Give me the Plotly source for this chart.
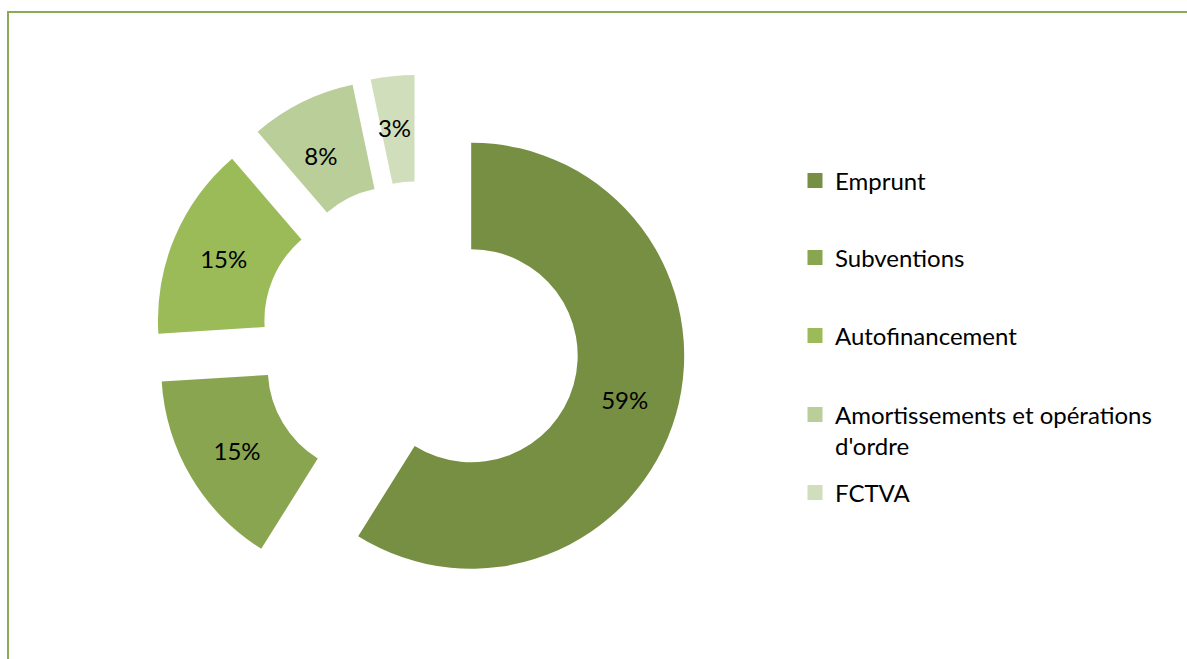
import plotly.graph_objects as go

categories = ["Emprunt", "Subventions", "Autofinancement",
              "Amortissements et opérations d'ordre", "FCTVA"]
legend_labels = ["Emprunt", "Subventions", "Autofinancement",
                 "Amortissements et opérations<br>d'ordre", "FCTVA"]
values = [58.9, 15.1, 14.7, 8.0, 3.3]
colors = ["#768F43", "#8AA550", "#9BBB59", "#B9CE98", "#D0DEBC"]

W, H = 1187, 659
FONT = "Lato"

label_tpl = ["%{percent:.0%}", "%{percent:.0%}", "%{percent:.0%}",
             "&nbsp;<br>%{percent:.0%}", "&nbsp;<br>&nbsp;<br>%{percent:.0%}"]

fig = go.Figure()
fig.add_trace(go.Pie(
    labels=categories,
    values=values,
    hole=0.5,
    sort=False,
    direction="clockwise",
    rotation=0,
    pull=[0.25] * len(values),
    marker=dict(colors=colors, line=dict(width=0)),
    textinfo="percent",
    texttemplate=label_tpl,
    textposition="inside",
    insidetextorientation="horizontal",
    textfont=dict(family=FONT, size=24, color="black"),
    showlegend=False,
    domain=dict(x=[153.75 / W, 686.25 / W], y=[(H - 607.25) / H, (H - 74.75) / H]),
))

# legend entries (one legend per entry to reproduce the spacing)
legend_y_px = [181, 258, 336, 430.5, 493]
for i, (lab, col) in enumerate(zip(legend_labels, colors)):
    lname = "legend" if i == 0 else f"legend{i + 1}"
    fig.add_trace(go.Scatter(
        x=[None], y=[None], mode="markers", name=lab,
        marker=dict(symbol="square", size=15, color=col),
        legend=lname, showlegend=True, hoverinfo="skip",
    ))
    fig.update_layout(**{lname: dict(
        x=795 / W, y=1 - legend_y_px[i] / H, xanchor="left", yanchor="middle",
        valign="top", bgcolor="rgba(0,0,0,0)", borderwidth=0,
        font=dict(family=FONT, size=24, color="black"),
    )})

fig.update_layout(
    width=W, height=H,
    margin=dict(l=0, r=0, t=0, b=0),
    paper_bgcolor="white", plot_bgcolor="white",
    xaxis=dict(visible=False), yaxis=dict(visible=False),
    uniformtext=dict(minsize=24, mode="show"),
    shapes=[dict(type="rect", xref="paper", yref="paper",
                 x0=8 / W, x1=1.02, y0=-0.02, y1=1 - 12 / H,
                 line=dict(color="#8BAA54", width=2), fillcolor="rgba(0,0,0,0)")],
)

fig.write_html("out.html", config={"displayModeBar": False},
               post_script="document.body.style.margin='0';")
